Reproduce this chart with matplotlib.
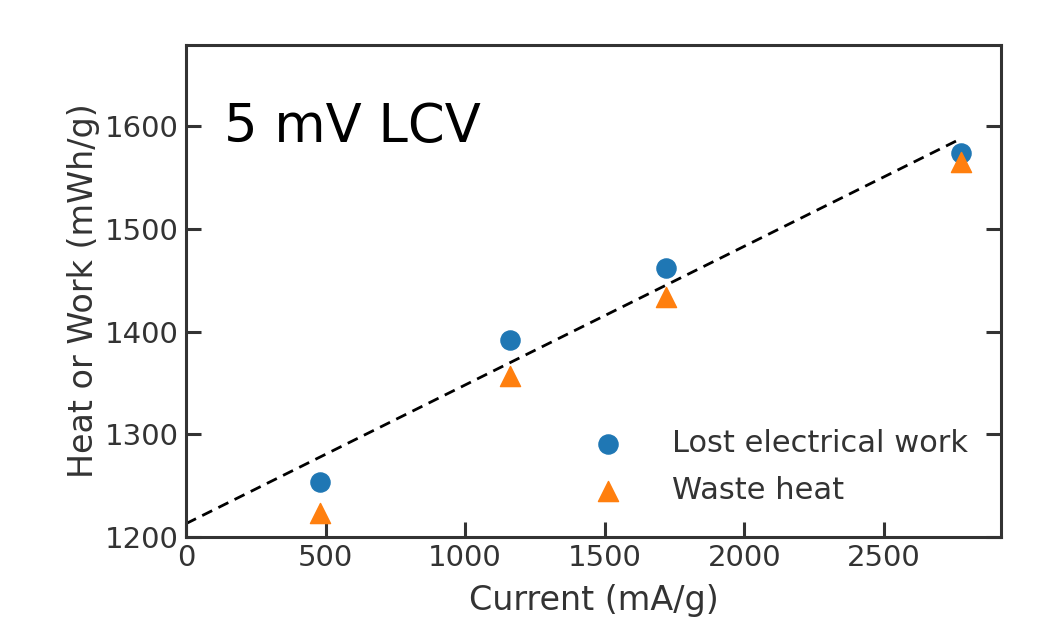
import numpy as np
import matplotlib.pyplot as plt

current = [480, 1160, 1720, 2775]
lost_work = [1254, 1392, 1462, 1574]
waste_heat = [1223, 1357, 1434, 1565]
fit_intercept = 1213
fit_slope = 0.135

x_ticks = [0, 500, 1000, 1500, 2000, 2500]
y_ticks = [1200, 1300, 1400, 1500, 1600]

plt.rcParams["font.family"] = "DejaVu Sans"
text_col = "#333333"

fig = plt.figure(figsize=(10.37, 6.22), dpi=100)
ax = fig.add_axes([0.1794, 0.1367, 0.7859, 0.791])

fit_x = np.array([0, current[-1]])
ax.plot(fit_x, fit_intercept + fit_slope * fit_x, "k--", lw=2, dashes=(4, 2.5))
ax.scatter(current, lost_work, s=190, color="#1f77b4", label="Lost electrical work", zorder=3)
ax.scatter(current, waste_heat, s=210, marker="^", color="#ff7f0e", label="Waste heat", zorder=3)

ax.set_xlim(0, 2920)
ax.set_ylim(1200, 1679)
ax.set_xticks(x_ticks)
ax.set_yticks(y_ticks)
ax.set_xlabel("Current (mA/g)", fontsize=24, color=text_col, labelpad=9)
ax.set_ylabel("Heat or Work (mWh/g)", fontsize=24, color=text_col, labelpad=4)
ax.tick_params(direction="in", length=11, width=2.2, labelsize=21,
               colors=text_col, right=True, pad=5)
for sp in ax.spines.values():
    sp.set_linewidth(2.2)
    sp.set_color(text_col)

ax.text(0.047, 0.833, "5 mV LCV", transform=ax.transAxes, fontsize=38,
        va="center", ha="left", color="black")

leg = ax.legend(loc="lower right", frameon=False, fontsize=22, handletextpad=1.1,
                labelspacing=0.6, borderaxespad=0, bbox_to_anchor=(0.975, 0.04))
for t in leg.get_texts():
    t.set_color(text_col)

fig.savefig("out.png", dpi=100)
